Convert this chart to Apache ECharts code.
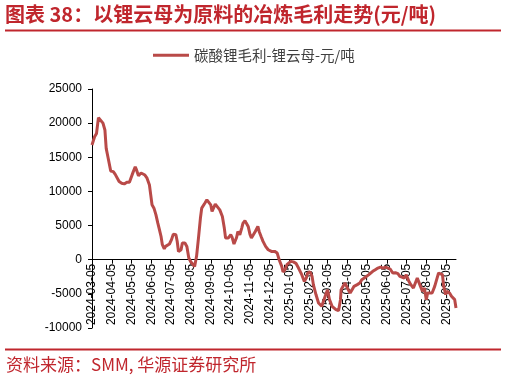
<!DOCTYPE html>
<html>
<head>
<meta charset="utf-8">
<script src="https://cdn.jsdelivr.net/npm/echarts@6/dist/echarts.min.js"></script>
<style>
html,body{margin:0;padding:0;background:#fff;}
#main{width:506px;height:383px;}
</style>
</head>
<body>
<div id="main"></div>
<script>
const titleText = '图表 38：以锂云母为原料的冶炼毛利走势(元/吨)';
const sourceText = '资料来源：SMM, 华源证券研究所';
const seriesName = '碳酸锂毛利-锂云母-元/吨';

const tickLabels = ['2024-03-05','2024-04-05','2024-05-05','2024-06-05','2024-07-05','2024-08-05',
  '2024-09-05','2024-10-05','2024-11-05','2024-12-05','2025-01-05','2025-02-05','2025-03-05',
  '2025-04-05','2025-05-05','2025-06-05','2025-07-05','2025-08-05','2025-09-05'];
const xMin = '2024-03-05';
const xMax = '2025-09-20';
const yMin = -10000, yMax = 25000, yStep = 5000;

const dates = [
  '2024-03-05','2024-03-09','2024-03-12','2024-03-15','2024-03-18','2024-03-22','2024-03-25','2024-03-27','2024-03-30',
  '2024-04-03','2024-04-07','2024-04-10','2024-04-13','2024-04-16','2024-04-20','2024-04-24','2024-04-28',
  '2024-05-02','2024-05-04','2024-05-08','2024-05-11','2024-05-13','2024-05-16','2024-05-20','2024-05-22','2024-05-26','2024-05-29',
  '2024-06-02','2024-06-04','2024-06-06','2024-06-09','2024-06-12','2024-06-15','2024-06-17','2024-06-20','2024-06-22','2024-06-25','2024-06-27','2024-06-30',
  '2024-07-03','2024-07-06','2024-07-09','2024-07-13','2024-07-15','2024-07-17','2024-07-21','2024-07-23','2024-07-27','2024-07-30',
  '2024-08-02','2024-08-05','2024-08-08','2024-08-11','2024-08-14','2024-08-17','2024-08-20','2024-08-22','2024-08-27','2024-08-30',
  '2024-09-02','2024-09-05','2024-09-07','2024-09-10','2024-09-12','2024-09-15','2024-09-19','2024-09-23','2024-09-26','2024-09-28',
  '2024-10-02','2024-10-06','2024-10-08','2024-10-11','2024-10-15','2024-10-17','2024-10-20','2024-10-23','2024-10-25','2024-10-28','2024-10-30',
  '2024-11-02','2024-11-05','2024-11-07','2024-11-10','2024-11-13','2024-11-17','2024-11-19','2024-11-22','2024-11-25','2024-11-29',
  '2024-12-03','2024-12-08','2024-12-13','2024-12-17','2024-12-20','2024-12-24','2024-12-26','2024-12-29',
  '2025-01-01','2025-01-04','2025-01-07','2025-01-11','2025-01-15','2025-01-19','2025-01-21','2025-01-24','2025-01-28','2025-01-31',
  '2025-02-02','2025-02-06','2025-02-09','2025-02-11','2025-02-15','2025-02-19','2025-02-24','2025-02-27',
  '2025-03-03','2025-03-05','2025-03-08','2025-03-12','2025-03-15','2025-03-18','2025-03-22','2025-03-25','2025-03-26','2025-03-29',
  '2025-04-01','2025-04-04','2025-04-06','2025-04-09','2025-04-12','2025-04-15','2025-04-20','2025-04-24','2025-04-27',
  '2025-05-01','2025-05-04','2025-05-08','2025-05-11','2025-05-14','2025-05-18','2025-05-22','2025-05-26','2025-05-30',
  '2025-06-03','2025-06-06','2025-06-10','2025-06-14','2025-06-18','2025-06-22','2025-06-25','2025-06-28',
  '2025-07-02','2025-07-05','2025-07-09','2025-07-12','2025-07-16','2025-07-19','2025-07-22','2025-07-24','2025-07-27','2025-07-30',
  '2025-08-02','2025-08-05','2025-08-07','2025-08-10','2025-08-14','2025-08-18','2025-08-21','2025-08-24','2025-08-27','2025-08-30',
  '2025-09-01','2025-09-04','2025-09-06','2025-09-10','2025-09-13','2025-09-16','2025-09-18','2025-09-20'
];
const values = [
  16800,18000,18500,20800,20800,20000,19000,16300,14900,
  13000,12900,12500,12400,11450,11200,11100,11350,
  11350,11550,12900,13600,13150,12300,12700,12700,12400,12000,
  10950,9500,8050,7550,6600,5350,4600,3400,2200,1600,1950,1700,
  2300,2900,3750,3650,2700,1200,1460,2440,2440,1950,
  250,-300,-500,-1000,500,3200,6100,7550,8300,8770,
  8770,8040,7060,7300,8140,8040,7300,6330,4630,3170,
  3170,3650,3310,2290,3260,4140,3650,4630,5360,5700,5360,
  4870,3650,3170,3650,4140,4870,4140,3400,2680,1950,
  1460,1220,1220,975,0,-975,-1800,-1460,
  -730,-490,-240,-320,-530,-1220,-1460,-2190,-3170,-2680,
  -1950,-1800,-2440,-3650,-5100,-6330,-6820,-6580,
  -4870,-4390,-5850,-6820,-7060,-7310,-7460,-5850,-4390,-3900,
  -3410,-3410,-4390,-4870,-4390,-3900,-3650,-3410,-2920,
  -2680,-2440,-2190,-2050,-1700,-1460,-1220,-1070,-1220,
  -1070,-1220,-1360,-1950,-1900,-2050,-2440,-2190,
  -2680,-2190,-3170,-3650,-4140,-3900,-2680,-3170,-3900,-4630,
  -4140,-5850,-4870,-4630,-4870,-3900,-2920,-1950,-1700,-2190,
  -3900,-5100,-4630,-4870,-5360,-5600,-5850,-7060
];

function toTs(s){ const p = s.split('-').map(Number); return Date.UTC(p[0], p[1]-1, p[2]); }
function pad(n){ return (n<10?'0':'') + n; }
function fmt(v){ const d = new Date(v); return d.getUTCFullYear()+'-'+pad(d.getUTCMonth()+1)+'-'+pad(d.getUTCDate()); }

const tickTs = tickLabels.map(toTs);
const seriesData = dates.map((d,i)=>[toTs(d), values[i]]);

// layout
const W = 506, H = 383;
const gTop = 89, gBottom = 55, gLeft = 92, gRight = 50;
const plotH = H - gTop - gBottom;
const zeroY = gTop + plotH * (yMax - 0) / (yMax - yMin);

const red = '#c0262d';
const chart = echarts.init(document.getElementById('main'), null, {renderer:'canvas'});
chart.setOption({
  animation: false,
  backgroundColor: '#fff',
  grid: [
    {left: gLeft, right: gRight, top: gTop, bottom: gBottom, containLabel: false, outerBoundsMode: 'none'},
    {left: gLeft, right: gRight, top: gTop, bottom: H - zeroY, containLabel: false, outerBoundsMode: 'none'}
  ],
  legend: {
    data: [seriesName], left: 153, top: 48, padding: 0,
    itemWidth: 36, itemHeight: 3, itemGap: 3, icon: 'rect',
    textStyle: {fontFamily: 'Noto Sans CJK SC', fontSize: 14.5, color: '#404040'}
  },
  graphic: [
    {type:'text', left: 5, top: 4, style:{text: titleText, fill: red, font: 'bold 20px "Noto Sans CJK SC"'}},
    {type:'rect', shape:{x:5, y:29.5, width:496, height:2}, style:{fill: red}},
    {type:'rect', shape:{x:5, y:348.5, width:496, height:2}, style:{fill: red}},
    {type:'text', left: 6, top: 356, style:{text: sourceText, fill: red, font: '17px "Noto Sans CJK SC"'}}
  ],
  xAxis: [{
    type: 'value', gridIndex: 0, min: toTs(xMin), max: toTs(xMax), scale: true,
    axisLine: {onZero: true, lineStyle: {color: '#000', width: 1}},
    axisTick: {show: true, customValues: tickTs, length: 4, lineStyle: {color: '#000'}},
    axisLabel: {show: false},
    splitLine: {show: false}, minorTick: {show: false}
  }, {
    type: 'value', gridIndex: 1, min: toTs(xMin), max: toTs(xMax), scale: true,
    axisLine: {show: false, onZero: false},
    axisTick: {show: false},
    axisLabel: {customValues: tickTs, rotate: 90, formatter: fmt, fontFamily: 'Liberation Sans', fontSize: 12, color: '#000', margin: 4},
    splitLine: {show: false}, minorTick: {show: false}
  }],
  yAxis: [{
    type: 'value', gridIndex: 0, min: yMin, max: yMax, interval: yStep,
    axisLine: {show: true, lineStyle: {color: '#000', width: 1}},
    axisTick: {show: true, length: 4, lineStyle: {color: '#000'}},
    axisLabel: {fontFamily: 'Liberation Sans', fontSize: 12, color: '#000', margin: 10, formatter: v => String(v)},
    splitLine: {show: false}
  }, {
    type: 'value', gridIndex: 1, min: 0, max: yMax, show: false
  }],
  series: [{
    name: seriesName, type: 'line', data: seriesData, xAxisIndex: 0, yAxisIndex: 0,
    showSymbol: false, symbol: 'none',
    lineStyle: {color: '#b94a48', width: 3},
    itemStyle: {color: '#b94a48'}
  }]
});
</script>
</body>
</html>
